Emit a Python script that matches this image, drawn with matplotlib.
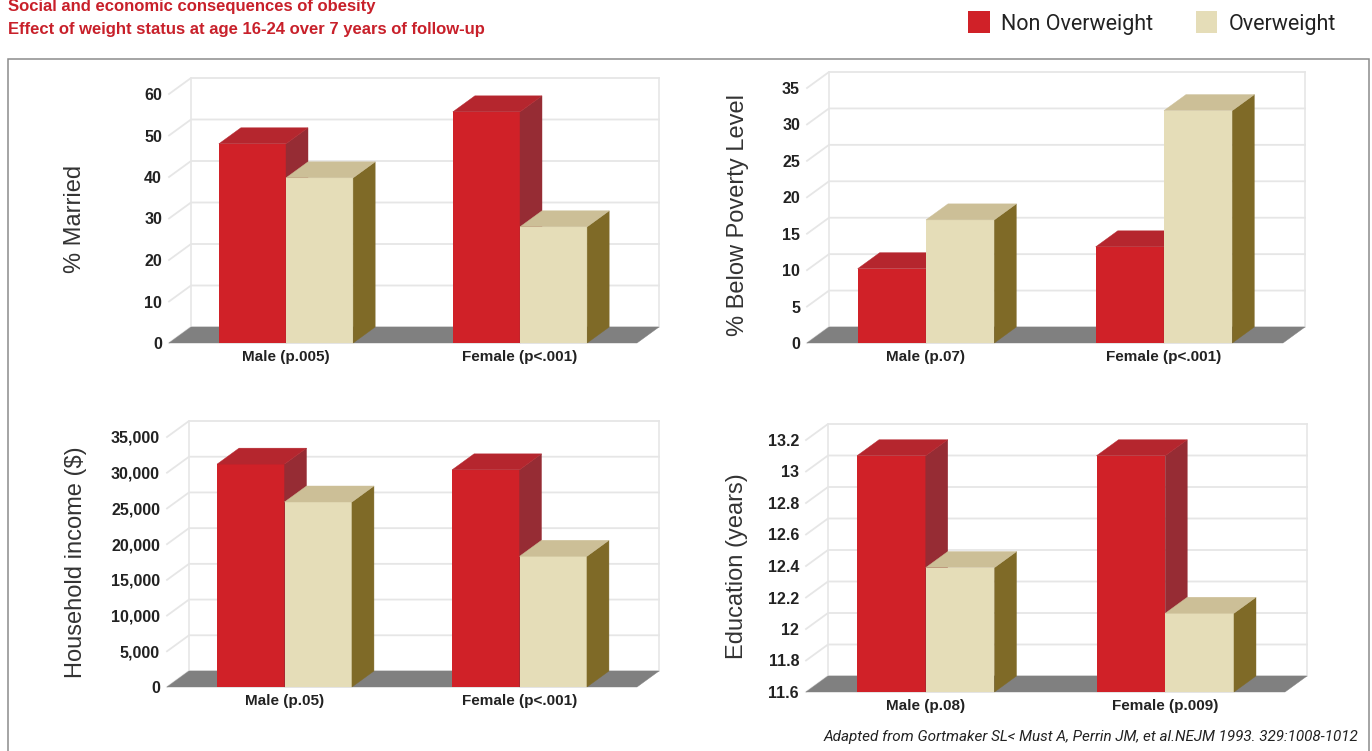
import matplotlib
matplotlib.use('Agg')
import matplotlib.pyplot as plt
from matplotlib.patches import Polygon, Rectangle
from matplotlib.transforms import IdentityTransform

W = 1372
H = 751

plt.rcParams['font.family'] = ['Liberation Sans', 'DejaVu Sans']

# values
married_non = [48, 55.7]
married_over = [39.8, 28]
married_ticks = [0, 10, 20, 30, 40, 50, 60]
married_cats = ['Male (p.005)', 'Female (p<.001)']

poverty_non = [10.2, 13.2]
poverty_over = [16.9, 31.9]
poverty_ticks = [0, 5, 10, 15, 20, 25, 30, 35]
poverty_cats = ['Male (p.07)', 'Female (p<.001)']

income_non = [31200, 30400]
income_over = [25900, 18300]
income_ticks = [0, 5000, 10000, 15000, 20000, 25000, 30000, 35000]
income_labels = ['0', '5,000', '10,000', '15,000', '20,000', '25,000', '30,000', '35,000']
income_cats = ['Male (p.05)', 'Female (p<.001)']

edu_non = [13.1, 13.1]
edu_over = [12.39, 12.1]
edu_ticks = [11.6, 11.8, 12, 12.2, 12.4, 12.6, 12.8, 13, 13.2]
edu_labels = ['11.6', '11.8', '12', '12.2', '12.4', '12.6', '12.8', '13', '13.2']
edu_cats = ['Male (p.08)', 'Female (p.009)']

RED = ('#D02128', '#B5262E', '#962C34')
TAN = ('#E5DDB8', '#CCBF97', '#7F6A27')
FLOOR = '#808080'
GRID = '#E6E6E6'
BAR_W = 0.287
DX = 22
DY = 16

fig = plt.figure(figsize=(W / 100, H / 100), dpi=100)


def fx(x):
    return x / W


def fy(y):
    return 1 - y / H


def poly(ax, pts, color, z):
    ax.add_patch(Polygon(pts, closed=True, facecolor=color, edgecolor=color, linewidth=0.3,
                         transform=IdentityTransform(), clip_on=False, zorder=z))


def bar3d(ax, x, val, bottom, colors, z):
    ax.bar([x], [val - bottom], BAR_W, bottom=bottom, color=colors[0], align='edge', zorder=z)
    (x0, y0), (x1, y1) = ax.transData.transform([(x, bottom), (x + BAR_W, val)])
    poly(ax, [(x1, y0), (x1 + DX, y0 + DY), (x1 + DX, y1 + DY), (x1, y1)], colors[2], z)
    poly(ax, [(x0, y1), (x1, y1), (x1 + DX, y1 + DY), (x0 + DX, y1 + DY)], colors[1], z)


def panel(box, non, over, ticks, labels, cats, ylabel, label_x):
    left, right, top, base = box
    ax = fig.add_axes([fx(left), fy(base), fx(right - left), (base - top) / H])
    ax.set_xlim(0, 2)
    ax.set_ylim(ticks[0], ticks[-1])
    ax.patch.set_alpha(0)
    for s in ax.spines.values():
        s.set_visible(False)

    (x0, y0), (x1, y1) = ax.transData.transform([(0, ticks[0]), (2, ticks[-1])])
    # walls
    for t in ticks:
        yy = ax.transData.transform((0, t))[1]
        ax.plot([x0, x0 + DX, x1 + DX], [yy, yy + DY, yy + DY], color=GRID, lw=1.3,
                transform=IdentityTransform(), clip_on=False, zorder=1)
    ax.plot([x0 + DX, x0 + DX], [y0 + DY, y1 + DY], color=GRID, lw=1.2,
            transform=IdentityTransform(), clip_on=False, zorder=1)
    ax.plot([x1 + DX, x1 + DX], [y0 + DY, y1 + DY], color=GRID, lw=1.2,
            transform=IdentityTransform(), clip_on=False, zorder=1)
    poly(ax, [(x0, y0), (x1, y0), (x1 + DX, y0 + DY), (x0 + DX, y0 + DY)], FLOOR, 2)

    for i in range(len(cats)):
        bar3d(ax, i + 0.5 - BAR_W, non[i], ticks[0], RED, 3 + i * 2)
        bar3d(ax, i + 0.5, over[i], ticks[0], TAN, 4 + i * 2)

    ax.set_yticks(ticks)
    ax.set_yticklabels(labels, fontsize=11.5, fontweight='bold', color='#222222')
    ax.set_xticks([0.5, 1.5])
    ax.set_xticklabels(cats, fontsize=11, fontweight='bold', color='#222222')
    ax.tick_params(length=0, pad=5)
    fig.text(fx(label_x), fy((base + top) / 2), ylabel, rotation=90, fontsize=17, color='#333333',
             ha='center', va='center')


panel((169, 637, 94, 343), married_non, married_over, married_ticks,
      [str(t) for t in married_ticks], married_cats, '% Married', 75)
panel((807, 1283, 88, 343), poverty_non, poverty_over, poverty_ticks,
      [str(t) for t in poverty_ticks], poverty_cats, '% Below Poverty Level', 738)
panel((167, 637, 437, 687), income_non, income_over, income_ticks,
      income_labels, income_cats, 'Household income ($)', 76)
panel((806, 1285, 440, 692), edu_non, edu_over, edu_ticks,
      edu_labels, edu_cats, 'Education (years)', 737)

# outer frame, runs off the bottom of the image
fig.add_artist(Rectangle((fx(8), fy(780)), fx(1361), (780 - 59) / H, transform=fig.transFigure,
                         fill=False, edgecolor='#8C8C8C', linewidth=1.1, zorder=0))

# heading
fig.text(fx(8), fy(11), 'Social and economic consequences of obesity', color='#C8202A',
         fontsize=12, fontweight='bold', va='baseline')
fig.text(fx(8), fy(34), 'Effect of weight status at age 16-24 over 7 years of follow-up', color='#C8202A',
         fontsize=12, fontweight='bold', va='baseline')

# legend
fig.add_artist(Rectangle((fx(968), fy(33)), fx(22), 22 / H, transform=fig.transFigure,
                         facecolor=RED[0], edgecolor='none'))
fig.add_artist(Rectangle((fx(1196), fy(33)), fx(21), 22 / H, transform=fig.transFigure,
                         facecolor=TAN[0], edgecolor='none'))
fig.text(fx(1001), fy(30), 'Non Overweight', fontsize=15.5, color='#222222', va='baseline',
         family=['Liberation Sans Narrow', 'Roboto'])
fig.text(fx(1229), fy(30), 'Overweight', fontsize=15.5, color='#222222', va='baseline',
         family=['Liberation Sans Narrow', 'Roboto'])

fig.text(fx(1358), fy(741), 'Adapted from Gortmaker SL< Must A, Perrin JM, et al.NEJM 1993. 329:1008-1012',
         fontsize=11, style='italic', color='#222222', ha='right', va='baseline',
         family=['Liberation Sans Narrow', 'Roboto'])

fig.savefig('out.png', dpi=100)
